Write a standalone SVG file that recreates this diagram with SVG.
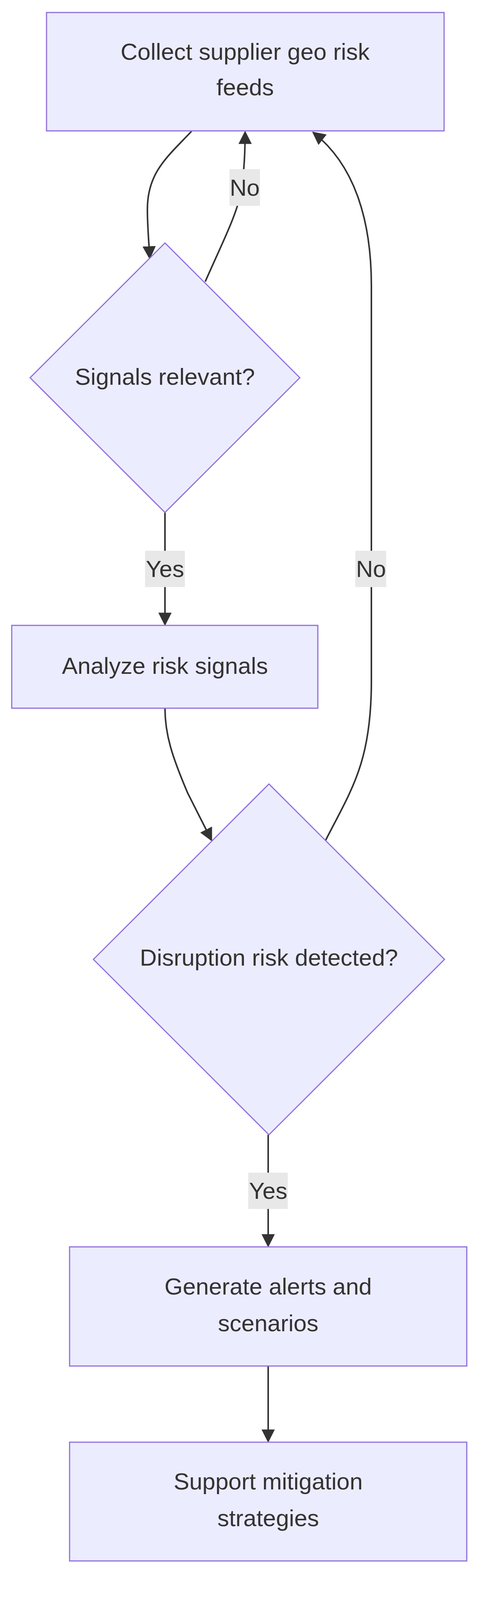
<svg xmlns="http://www.w3.org/2000/svg" width="1256" height="4132" viewBox="0 0 1256 4132">
<style>
.n{fill:#ECECFF;stroke:#9370DB;stroke-width:3}
.t{font-family:"Liberation Sans",Arial,sans-serif;font-size:60px;fill:#333;text-anchor:middle}
.e{fill:none;stroke:#333;stroke-width:4}
.lb{fill:#e8e8e8}
</style>
<defs>
<marker id="a" markerUnits="userSpaceOnUse" markerWidth="34" markerHeight="34" viewBox="0 0 10 10" refX="9" refY="5" orient="auto"><path d="M0,0L10,5L0,10z" fill="#333"/></marker>
</defs>
<rect width="1256" height="4132" fill="#fff"/>
<g id="edges">
<path class="e" d="M490,336 C430,400 377,440 377,536 C377,580 381,620 383,661" marker-end="url(#a)"/>
<path class="e" d="M525,721 C565,630 600,560 612,510 C624,460 627,400 627,338" marker-end="url(#a)"/>
<path class="e" d="M422,1312 L422,1599" marker-end="url(#a)"/>
<path class="e" d="M422,1813 C422,1880 440,1936 480,2030 L541,2151" marker-end="url(#a)"/>
<path class="e" d="M833,2151 C900,2020 950,1950 950,1744 L950,732 C950,560 905,420 801,339" marker-end="url(#a)"/>
<path class="e" d="M686,2905 L686,3190" marker-end="url(#a)"/>
<path class="e" d="M686,3497 L686,3690" marker-end="url(#a)"/>
</g>
<g id="labels">
<rect class="lb" x="587" y="433" width="78" height="94"/><text class="t" x="626" y="501">No</text>
<rect class="lb" x="371" y="1410" width="102" height="93"/><text class="t" x="422" y="1477">Yes</text>
<rect class="lb" x="909" y="1410" width="79" height="93"/><text class="t" x="949" y="1477">No</text>
<rect class="lb" x="635" y="3002" width="101" height="93"/><text class="t" x="686" y="3069">Yes</text>
</g>
<g id="collect"><rect class="n" x="119" y="32" width="1017" height="303"/>
<text class="t" x="627" y="153">Collect supplier geo risk</text><text class="t" x="627" y="244">feeds</text></g>
<g id="relevant"><polygon class="n" points="422,622 767,967 422,1312 77,967"/>
<text class="t" x="422" y="985">Signals relevant?</text></g>
<g id="analyze"><rect class="n" x="30" y="1601" width="783" height="212"/>
<text class="t" x="422" y="1725">Analyze risk signals</text></g>
<g id="disruption"><polygon class="n" points="688,2007 1137,2456 688,2905 239,2456"/>
<text class="t" x="688" y="2472">Disruption risk detected?</text></g>
<g id="generate"><rect class="n" x="178" y="3192" width="1016" height="305"/>
<text class="t" x="686" y="3314">Generate alerts and</text><text class="t" x="686" y="3408">scenarios</text></g>
<g id="support"><rect class="n" x="178" y="3692" width="1016" height="304"/>
<text class="t" x="686" y="3813">Support mitigation</text><text class="t" x="686" y="3907">strategies</text></g>
</svg>
